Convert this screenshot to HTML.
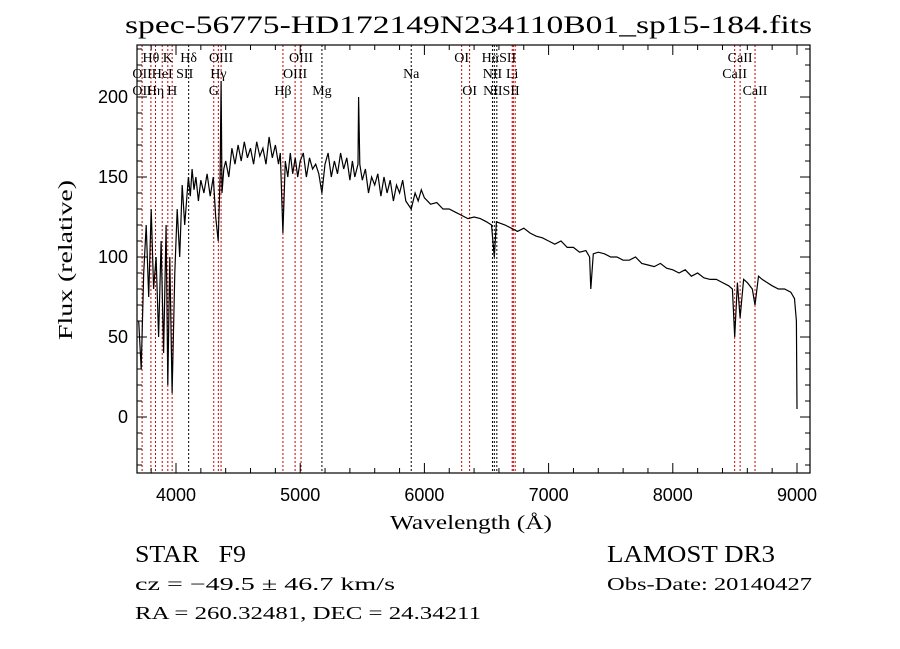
<!DOCTYPE html>
<html><head><meta charset="utf-8"><style>
body{margin:0;background:#fff}
svg{display:block}
.s{font-family:"Liberation Serif",serif}
.a{font-family:"Liberation Sans",sans-serif}
</style></head><body>
<svg id="c" width="900" height="649" xmlns="http://www.w3.org/2000/svg">
<text class="s" x="125" y="33" font-size="25" textLength="687" lengthAdjust="spacingAndGlyphs">spec-56775-HD172149N234110B01_sp15-184.fits</text>
<g id="lines"></g>
<path id="spec" fill="none" stroke="#000" stroke-width="1.2"/>
<rect x="137" y="45" width="673" height="428" fill="none" stroke="#000" stroke-width="1.2"/>
<g id="ticks"></g>
<text class="s" x="390" y="529" font-size="20" textLength="162" lengthAdjust="spacingAndGlyphs">Wavelength (Å)</text>
<text class="s" x="0" y="0" font-size="20" textLength="160" lengthAdjust="spacingAndGlyphs" transform="translate(72 340) rotate(-90)">Flux (relative)</text>
<text class="s" x="135" y="562" font-size="24" textLength="111" lengthAdjust="spacingAndGlyphs">STAR&#160;&#160;&#160;F9</text>
<text class="s" x="607" y="562" font-size="24" textLength="168" lengthAdjust="spacingAndGlyphs">LAMOST DR3</text>
<text class="s" x="135" y="590" font-size="18" textLength="260" lengthAdjust="spacingAndGlyphs">cz = −49.5 ± 46.7 km/s</text>
<text class="s" x="607" y="590" font-size="18" textLength="205" lengthAdjust="spacingAndGlyphs">Obs-Date: 20140427</text>
<text class="s" x="135" y="619" font-size="18" textLength="346" lengthAdjust="spacingAndGlyphs">RA = 260.32481, DEC =  24.34211</text>
</svg>
<script>
const wave=[3700,3720,3740,3760,3780,3800,3820,3840,3860,3880,3900,3920,3934,3950,3969,3990,4010,4030,4050,4070,4100,4115,4130,4145,4160,4180,4200,4225,4250,4275,4300,4320,4340,4355,4363,4370,4385,4400,4425,4450,4475,4500,4525,4550,4575,4600,4625,4650,4675,4700,4725,4750,4775,4800,4825,4840,4861,4880,4900,4920,4940,4960,4980,5000,5025,5050,5075,5100,5125,5150,5175,5200,5225,5250,5275,5300,5325,5350,5375,5400,5420,5440,5465,5470,5480,5500,5525,5550,5575,5600,5625,5650,5675,5700,5725,5750,5775,5800,5825,5850,5894,5925,5950,5975,6000,6050,6100,6150,6200,6250,6300,6350,6400,6450,6500,6540,6563,6580,6650,6700,6750,6800,6850,6900,6950,7000,7050,7100,7150,7200,7250,7300,7330,7340,7360,7400,7450,7500,7550,7600,7650,7700,7750,7800,7850,7900,7950,8000,8050,8100,8150,8200,8250,8300,8350,8400,8450,8480,8498,8520,8542,8570,8600,8640,8662,8690,8720,8760,8800,8850,8900,8950,8980,8995,9000];
const flux=[60,30,90,120,75,130,80,100,50,110,40,120,20,100,15,90,130,100,145,120,150,138,155,142,150,135,148,140,152,138,150,125,110,150,210,140,155,160,150,168,158,170,160,172,162,168,158,172,163,168,158,175,162,170,158,165,115,160,150,165,152,162,150,160,165,150,162,155,158,152,140,158,165,150,160,152,165,155,162,148,160,150,158,200,158,148,155,140,150,145,152,138,150,140,148,135,145,140,148,135,130,140,135,142,137,133,134,130,130,128,126,124,125,124,122,120,100,122,120,118,116,118,115,113,112,110,108,110,106,106,103,104,100,80,102,103,102,100,100,98,98,100,96,95,94,96,93,92,90,92,88,90,87,86,86,84,82,80,50,84,62,86,84,80,70,88,86,84,82,80,80,78,74,60,5];
const lineWaves=[3727,3798,3835,3889,3934,3969,4102,4304,4341,4363,4861,4959,5007,5175,5894,6300,6364,6548,6563,6583,6707,6716,6731,8498,8542,8662];
const lineRed=[1,1,1,1,1,1,0,1,1,1,1,1,1,0,0,1,1,0,0,0,1,1,1,1,1,1];
const xTicks=[4000,5000,6000,7000,8000,9000];
const yTicks=[0,50,100,150,200];
const labels=[["Hθ",3798,62],["K",3934,62],["Hδ",4102,62],["OIII",4363,62],["OIII",5007,62],["OI",6300,62],["HαSII",6600,62],["CaII",8542,62],
["OII",3727,78],["HeI",3889,78],["SII",4070,78],["Hγ",4341,78],["OIII",4959,78],["Na",5894,78],["NII",6548,78],["Li",6707,78],["CaII",8498,78],
["OII",3727,95],["Hη",3835,95],["H",3969,95],["G",4304,95],["Hβ",4861,95],["Mg",5175,95],["OI",6364,95],["NIISII",6620,95],["CaII",8662,95]];
const X=w=>176+(w-4000)*(797-176)/5000;
const Y=f=>417-f*1.6;
const NS="http://www.w3.org/2000/svg";
function mk(t,a,p){const e=document.createElementNS(NS,t);for(const k in a)e.setAttribute(k,a[k]);p.appendChild(e);return e;}
let d="";wave.forEach((w,i)=>{d+=(i?"L":"M")+X(w).toFixed(1)+" "+Math.min(473,Math.max(45,Y(flux[i]))).toFixed(1);});
document.getElementById("spec").setAttribute("d",d);
const L=document.getElementById("lines");
lineWaves.forEach((w,i)=>{const e=mk("line",{x1:X(w),x2:X(w),y1:45,y2:473,stroke:lineRed[i]?"#c00":"#000","stroke-width":1,"stroke-dasharray":"2,2"},L);

});
labels.forEach(l=>{const e=mk("text",{x:X(l[1]),y:l[2],"font-size":14,"text-anchor":"middle",class:"s"},L);e.textContent=l[0];

});
const T=document.getElementById("ticks");
for(let w=3800;w<=9100;w+=200){const big=w%1000===0;
mk("line",{x1:X(w),x2:X(w),y1:473,y2:473-(big?10:5),stroke:"#000"},T);mk("line",{x1:X(w),x2:X(w),y1:45,y2:45+(big?10:5),stroke:"#000"},T);}
xTicks.forEach(w=>{const e=mk("text",{x:X(w),y:501,"font-size":18,"text-anchor":"middle",class:"a"},T);e.textContent=w;

});
for(let f=-30;f<=230;f+=10){const big=f%50===0;
mk("line",{x1:137,x2:137+(big?10:5),y1:Y(f),y2:Y(f),stroke:"#000"},T);mk("line",{x1:810,x2:810-(big?10:5),y1:Y(f),y2:Y(f),stroke:"#000"},T);}
yTicks.forEach(f=>{const e=mk("text",{x:128,y:Y(f)+6,"font-size":18,"text-anchor":"end",class:"a"},T);e.textContent=f;

});
</script>
</body></html>
